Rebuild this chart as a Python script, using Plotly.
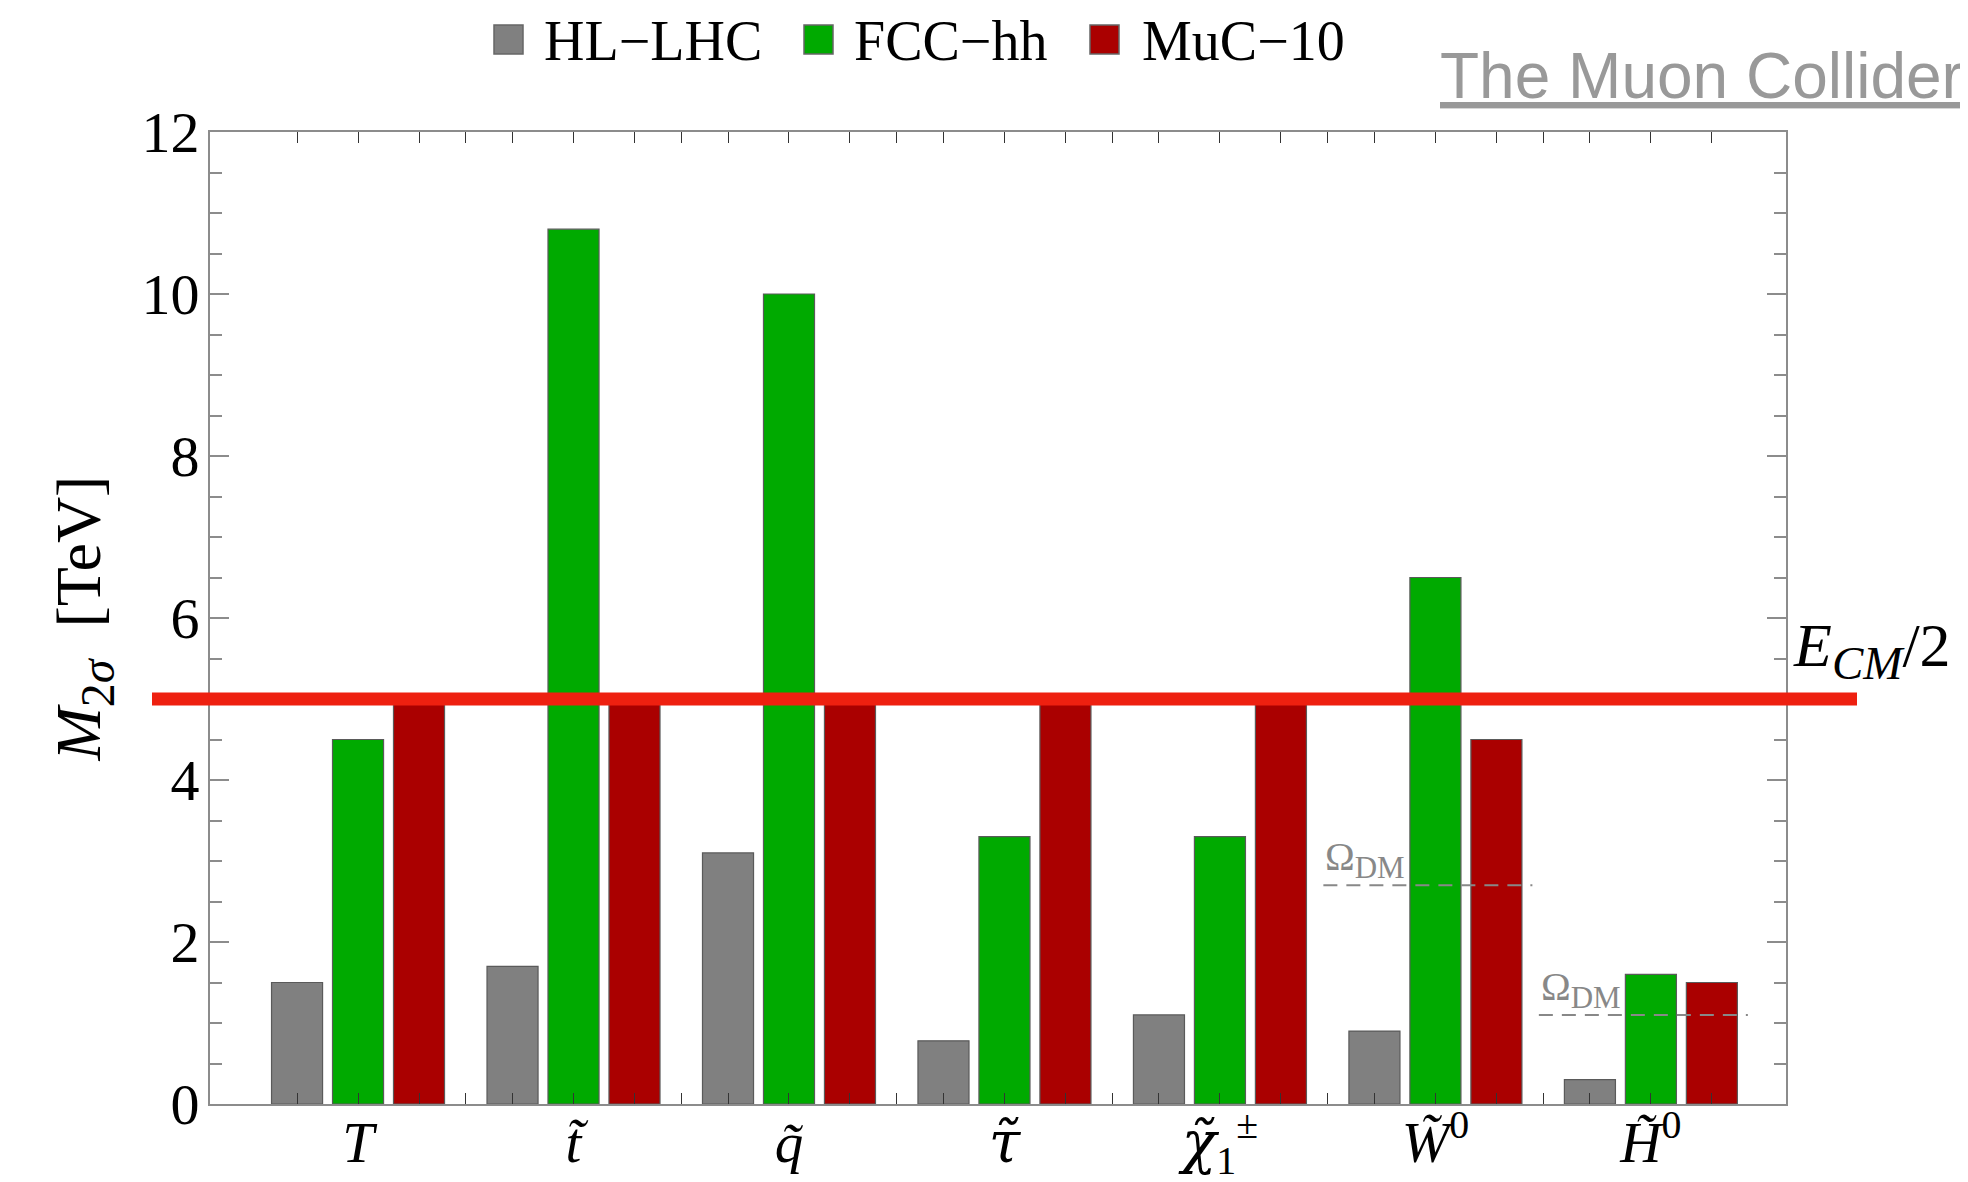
import plotly.graph_objects as go

# ---------------- data ----------------
greek = "<span style=\"font-family:DejaVu Serif\">{}</span>"
categories = ["<i>T</i>", "<i>t\u0303</i>", "<i>q\u0303</i>",
              "<i>" + greek.format("\u03c4\u0303") + "</i>",
              "<i>" + greek.format("\u03c7\u0303") + "</i><sub>1</sub><sup>\u00b1</sup>",
              "<i>W\u0303</i><sup>0</sup>", "<i>H\u0303</i><sup>0</sup>"]
series_names = ["HL\u2212LHC", "FCC\u2212hh", "MuC\u221210"]
hl_lhc = [1.5, 1.7, 3.1, 0.78, 1.1, 0.9, 0.3]
fcc_hh = [4.5, 10.8, 10.0, 3.3, 3.3, 6.5, 1.6]
muc_10 = [5.0, 5.0, 5.0, 5.0, 5.0, 4.5, 1.5]
ecm_half = 5.0
omega_dm_category = [5, 6]       # indices into categories (W̃0, H̃0)
omega_dm_values = [2.7, 1.1]
y_tick_values = [0, 2, 4, 6, 8, 10, 12]

# ---------------- style ----------------
colors = ["#808080", "#00aa00", "#aa0000"]
serif = "Liberation Serif, Times New Roman, serif"
axis_gray = "#8c8c8c"
OFF = 8                      # page body margin of the html page
PAGE_W, PAGE_H = 1968, 1182
W, H = PAGE_W - OFF, PAGE_H - OFF
L, R, T, B = 210, 1786, 132, 1104   # plot area in page pixels


def px_x(px):
    return (px - L) / (R - L)


def px_y(py):
    return (B - py) / (B - T)


xpos = [i + 1 for i in range(len(categories))]
slot = 0.283
bar_centers = []
for p in xpos:
    bar_centers += [p - slot, p + slot]
separators = [p + 0.5 for p in xpos[:-1]]

fig = go.Figure()
for name, vals, col in zip(series_names, [hl_lhc, fcc_hh, muc_10], colors):
    fig.add_trace(go.Bar(x=xpos, y=vals, name=name, marker_color=col,
                         marker_line_color="#5a5a5a", marker_line_width=1.2,
                         showlegend=False))

# Omega_DM dashed lines
for ci, v in zip(omega_dm_category, omega_dm_values):
    fig.add_trace(go.Scatter(x=[xpos[ci] - 0.52, xpos[ci] + 0.45], y=[v, v],
                             mode="lines", showlegend=False, hoverinfo="skip",
                             line=dict(color="#888888", width=2, dash="14px,9px")))
    fig.add_annotation(x=xpos[ci] - 0.52, y=v, xref="x", yref="y",
                       text="\u03a9<sub><span style=\"font-size:31px\">DM</span></sub>",
                       showarrow=False,
                       xanchor="left", yanchor="bottom", xshift=0, yshift=-2,
                       font=dict(family=serif, size=40, color="#888888"))

# E_CM/2 line
fig.add_shape(type="line", xref="paper", yref="y", x0=px_x(152), x1=px_x(1857),
              y0=ecm_half, y1=ecm_half, line=dict(color="#ee2010", width=13),
              layer="above")
fig.add_annotation(xref="paper", yref="y", x=px_x(1791), y=ecm_half,
                   text="<i>E</i><sub><i><span style=\"font-size:47px\">CM</span></i></sub>/2",
                   showarrow=False,
                   xanchor="left", yanchor="bottom", yshift=8,
                   font=dict(family=serif, size=62, color="black"))

# manual legend
legend_sq_x = [494, 804, 1090]
legend_tx_x = [542, 852, 1140]
for name, col, sx, tx in zip(series_names, colors, legend_sq_x, legend_tx_x):
    fig.add_shape(type="rect", xref="paper", yref="paper",
                  x0=px_x(sx), x1=px_x(sx + 29), y0=px_y(54), y1=px_y(25),
                  fillcolor=col, line=dict(color="#666666", width=1.5))
    fig.add_annotation(xref="paper", yref="paper", x=px_x(tx), y=px_y(41),
                       text=name, showarrow=False, xanchor="left", yanchor="middle",
                       font=dict(family=serif, size=56, color="black"))

# watermark
fig.add_annotation(xref="paper", yref="paper", x=px_x(1965), y=px_y(76),
                   text="<u>The Muon Collider</u>", showarrow=False,
                   xanchor="right", yanchor="middle",
                   font=dict(family="Liberation Sans, Arial, sans-serif", size=64,
                             color="#999999"))

fig.update_layout(
    width=W, height=H,
    margin=dict(l=L - OFF, r=PAGE_W - R, t=T - OFF, b=PAGE_H - B, autoexpand=False),
    paper_bgcolor="white", plot_bgcolor="white",
    barmode="group", bargap=0.151, bargroupgap=0.163,
    showlegend=False,
    font=dict(family=serif, color="black"),
)
fig.update_xaxes(
    range=[0.313, 7.627], tickmode="array", tickvals=xpos, ticktext=categories,
    ticks="inside", ticklen=11, tickcolor="#333333", tickwidth=1.2,
    showline=True, linecolor=axis_gray, linewidth=1.8, mirror="allticks",
    showgrid=False, zeroline=False, automargin=False,
    tickfont=dict(family=serif, size=57, color="black"), ticklabelstandoff=-12,
    minor=dict(tickmode="array", tickvals=bar_centers + separators, ticks="inside",
               ticklen=11, tickcolor="#333333", tickwidth=1.2, showgrid=False),
)
fig.update_yaxes(
    range=[0, 12], tickmode="array", tickvals=y_tick_values,
    ticks="inside", ticklen=19, tickcolor=axis_gray, tickwidth=1.6,
    showline=True, linecolor=axis_gray, linewidth=1.8, mirror="allticks",
    showgrid=False, zeroline=False, automargin=False,
    tickfont=dict(family=serif, size=58, color="black"), ticklabelstandoff=-3,
    minor=dict(dtick=0.5, ticks="inside", ticklen=12, tickcolor=axis_gray,
               tickwidth=1.6, showgrid=False),
    title=dict(text="<i>M</i><sub><span style=\"font-size:48px\">2<i>\u03c3</i></span></sub>\u00a0\u00a0[TeV]",
               font=dict(family=serif, size=64, color="black"), standoff=20),
)

fig.write_html("out.html")
